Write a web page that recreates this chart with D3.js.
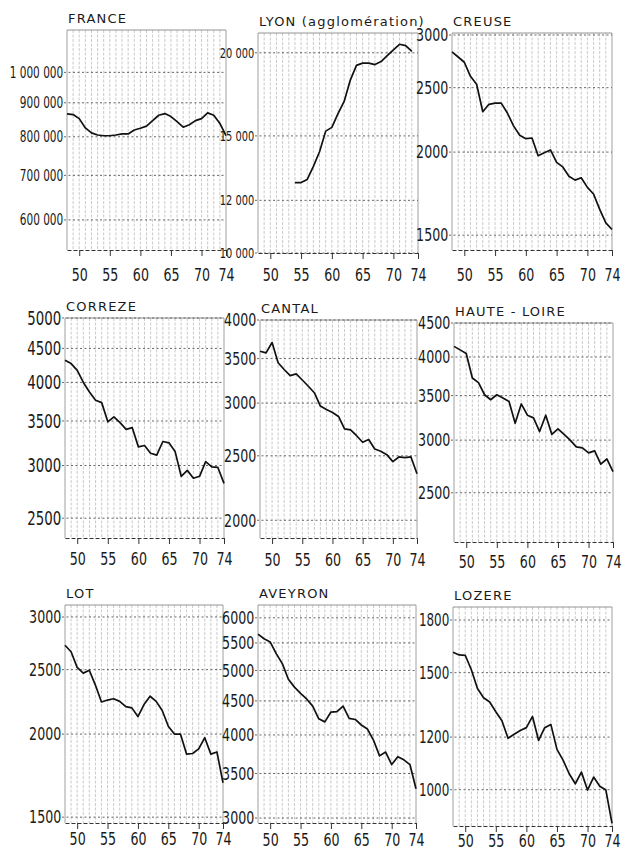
<!DOCTYPE html>
<html>
<head>
<meta charset="utf-8">
<script src="https://cdn.jsdelivr.net/npm/d3@7"></script>
<style>
  body { margin: 0; background: #fff; }
  svg { display: block; }
  .title { font-family: "DejaVu Sans", sans-serif; font-size: 13px; letter-spacing: 1.2px; fill: #1a1a1a; }
  .tick text { font-family: "Liberation Sans Narrow", "DejaVu Sans Condensed", sans-serif; fill: #1a1a1a; }
</style>
</head>
<body>
<svg id="chart"></svg>
<script>
// births per year, 1948-1974 (semi-log small multiples)
const years = [48, 49, 50, 51, 52, 53, 54, 55, 56, 57, 58, 59, 60, 61, 62, 63, 64, 65, 66, 67, 68, 69, 70, 71, 72, 73, 74];
const lyonYears = [54, 55, 56, 57, 58, 59, 60, 61, 62, 63, 64, 65, 66, 67, 68, 69, 70, 71, 72, 73];

const france = [866000, 864000, 852000, 825000, 811000, 805000, 803000, 803000, 805000, 808000, 808000, 819000, 824000, 830000, 846000, 862000, 867000, 858000, 843000, 827000, 834000, 846000, 852000, 869000, 862000, 838000, 803000];
const lyon = [12760, 12760, 12900, 13500, 14200, 15250, 15450, 16200, 16900, 18200, 19150, 19300, 19300, 19200, 19400, 19800, 20200, 20600, 20500, 20100];
const creuse = [2830, 2780, 2730, 2600, 2530, 2300, 2360, 2370, 2370, 2290, 2190, 2120, 2095, 2100, 1975, 1995, 2015, 1930, 1900, 1840, 1815, 1830, 1770, 1730, 1640, 1565, 1530];
const correze = [4320, 4270, 4170, 4000, 3870, 3760, 3730, 3490, 3550, 3480, 3400, 3420, 3200, 3215, 3130, 3110, 3260, 3245, 3150, 2890, 2950, 2870, 2890, 3040, 2985, 2980, 2820];
const cantal = [3590, 3570, 3700, 3450, 3370, 3300, 3320, 3250, 3180, 3110, 2970, 2935, 2905, 2865, 2745, 2735, 2680, 2620, 2645, 2560, 2540, 2510, 2450, 2490, 2485, 2490, 2350];
const hauteLoire = [4150, 4100, 4050, 3720, 3660, 3510, 3450, 3510, 3470, 3430, 3180, 3400, 3270, 3240, 3090, 3270, 3060, 3120, 3060, 3000, 2930, 2920, 2870, 2890, 2760, 2810, 2690];
const lot = [2720, 2660, 2520, 2470, 2495, 2370, 2235, 2250, 2260, 2240, 2200, 2190, 2125, 2215, 2280, 2240, 2170, 2055, 2000, 2000, 1866, 1870, 1900, 1975, 1866, 1880, 1690];
const aveyron = [5670, 5580, 5520, 5300, 5120, 4850, 4720, 4620, 4530, 4420, 4230, 4185, 4330, 4335, 4420, 4236, 4220, 4140, 4083, 3930, 3720, 3770, 3610, 3710, 3670, 3610, 3320];
const lozere = [1610, 1595, 1593, 1515, 1420, 1375, 1355, 1310, 1270, 1195, 1212, 1228, 1240, 1289, 1186, 1240, 1254, 1150, 1108, 1057, 1021, 1063, 999, 1045, 1012, 999, 890];

const titles = ["FRANCE", "LYON (agglomération)", "CREUSE", "CORREZE", "CANTAL", "HAUTE - LOIRE", "LOT", "AVEYRON", "LOZERE"];

// y-axis tick values and their printed labels
const yTicks = [
  [1000000, 900000, 800000, 700000, 600000],
  [20000, 15000, 12000, 10000],
  [3000, 2500, 2000, 1500],
  [5000, 4500, 4000, 3500, 3000, 2500],
  [4000, 3500, 3000, 2500, 2000],
  [4500, 4000, 3500, 3000, 2500],
  [3000, 2500, 2000, 1500],
  [6000, 5500, 5000, 4500, 4000, 3500, 3000],
  [1800, 1500, 1200, 1000]
];
const yTickLabels = [
  ["1 000 000", "900 000", "800 000", "700 000", "600 000"],
  ["20 000", "15 000", "12 000", "10 000"],
  ["3000", "2500", "2000", "1500"],
  ["5000", "4500", "4000", "3500", "3000", "2500"],
  ["4000", "3500", "3000", "2500", "2000"],
  ["4500", "4000", "3500", "3000", "2500"],
  ["3000", "2500", "2000", "1500"],
  ["6000", "5500", "5000", "4500", "4000", "3500", "3000"],
  ["1800", "1500", "1200", "1000"]
];
// log-scale domain of each panel (bottom, top)
const yDomains = [
  [540600, 1158000], [10000, 21420], [1425, 3021],
  [2334, 5000], [1881, 4000], [2108, 4500],
  [1470, 3127], [2949, 6272], [882, 1883]
];
const xTicks = [50, 55, 60, 65, 70, 74];

const series = [
  { x: years, v: france }, { x: lyonYears, v: lyon }, { x: years, v: creuse },
  { x: years, v: correze }, { x: years, v: cantal }, { x: years, v: hauteLoire },
  { x: years, v: lot }, { x: years, v: aveyron }, { x: years, v: lozere }
];

// layout: plot boxes [left, top, right, bottom] and label offsets
const boxes = [
  [67, 30, 226, 250], [258, 33, 418, 253], [452, 33, 612, 250],
  [65, 318, 224, 538], [260, 320, 417, 538], [454, 323, 613, 542],
  [65, 605, 223, 823], [258, 605, 416, 823], [453, 607, 612, 826]
];
const xLabelGap = [31, 28, 31, 27, 28, 26, 22, 23, 21];
const yLabelSize = [15, 14, 18, 19, 18, 18, 18, 18, 17];
const squeeze = 0.78;

const svg = d3.select("#chart").attr("width", 630).attr("height", 850);

series.forEach((s, i) => {
  const [l, t, r, b] = boxes[i];
  const x = d3.scaleLinear().domain([48, 74]).range([l, r]);
  const y = d3.scaleLog().domain(yDomains[i]).range([b, t]);
  const g = svg.append("g");

  // vertical year grid
  g.selectAll("line.vg")
    .data(years)
    .enter()
    .append("line")
    .attr("x1", d => x(d)).attr("x2", d => x(d))
    .attr("y1", t).attr("y2", b)
    .attr("stroke", d => (d === 48 || d === 74) ? "#888" : "#bdbdbd")
    .attr("stroke-width", 0.8)
    .attr("stroke-dasharray", d => (d === 48 || d === 74) ? null : "3,1.5");

  // top border
  g.append("line")
    .attr("x1", l).attr("x2", r).attr("y1", t).attr("y2", t)
    .attr("stroke", "#888").attr("stroke-width", 0.9);

  // horizontal grid at labelled values
  g.selectAll("line.hg")
    .data(yTicks[i])
    .enter()
    .append("line")
    .attr("x1", l - 3).attr("x2", r)
    .attr("y1", d => y(d)).attr("y2", d => y(d))
    .attr("stroke", "#555")
    .attr("stroke-width", 0.9)
    .attr("stroke-dasharray", "2,2.5");

  // y axis labels (narrow lettering)
  const ya = g.append("g")
    .attr("transform", `translate(${l - 3},0)`)
    .call(d3.axisLeft(y).tickValues(yTicks[i]).tickFormat((d, k) => yTickLabels[i][k]).tickSize(0).tickPadding(1));
  ya.select(".domain").remove();
  ya.selectAll("text")
    .attr("font-size", yLabelSize[i])
    .attr("transform", `scale(${squeeze},1)`);

  // x axis
  const xa = g.append("g")
    .attr("transform", `translate(0,${b})`)
    .call(d3.axisBottom(x).tickValues(xTicks).tickFormat(d => d).tickSize(6).tickSizeOuter(0));
  xa.select(".domain").attr("stroke", "#333").attr("stroke-dasharray", "4,2");
  xa.selectAll(".tick line").attr("stroke", "#333");
  xa.selectAll("text")
    .attr("font-size", 18)
    .attr("y", xLabelGap[i]).attr("dy", 0)
    .attr("transform", `scale(${squeeze},1)`);

  // data line
  const pts = s.x.map((yr, k) => ({ yr, v: s.v[k] }));
  g.append("path")
    .datum(pts)
    .attr("fill", "none")
    .attr("stroke", "#111")
    .attr("stroke-width", 1.7)
    .attr("stroke-linejoin", "round")
    .attr("d", d3.line().x(d => x(d.yr)).y(d => y(d.v)));

  // title
  g.append("text")
    .attr("class", "title")
    .attr("x", l + 1)
    .attr("y", t - 7)
    .text(titles[i]);
});
</script>
</body>
</html>
